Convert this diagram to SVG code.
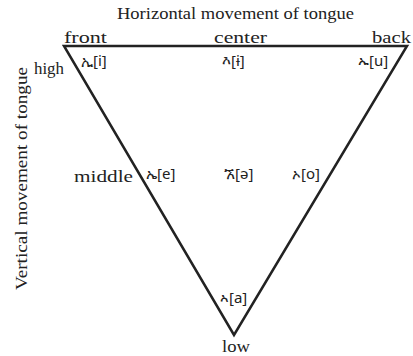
<svg xmlns="http://www.w3.org/2000/svg" width="413" height="356" viewBox="0 0 413 356">
<style>
.s{font-family:"Liberation Serif","DejaVu Serif",serif;font-size:17px;fill:#222}
.v{font-family:"Noto Sans","DejaVu Sans",sans-serif;font-size:15px;fill:#222}
.edge{fill:none;stroke:#222;stroke-width:2.5;stroke-linejoin:miter}
</style>
<rect width="413" height="356" fill="#fff"/>
<g id="connectors">
<path class="edge" d="M64,46 L407,46 L234,335 Z"/>
</g>
<g id="labels">
<text class="s" x="117" y="19" textLength="237" lengthAdjust="spacingAndGlyphs">Horizontal movement of tongue</text>
<text class="s" x="0" y="0" textLength="223" lengthAdjust="spacingAndGlyphs" transform="translate(27 290) rotate(-90)">Vertical movement of tongue</text>
<text class="s" x="64" y="43" textLength="43" lengthAdjust="spacingAndGlyphs">front</text>
<text class="s" x="214" y="43" textLength="53" lengthAdjust="spacingAndGlyphs">center</text>
<text class="s" x="372" y="43" textLength="39" lengthAdjust="spacingAndGlyphs">back</text>
<text class="s" x="34" y="74" textLength="30" lengthAdjust="spacingAndGlyphs">high</text>
<text class="s" x="74" y="182" textLength="59" lengthAdjust="spacingAndGlyphs">middle</text>
<text class="s" x="222" y="352" textLength="28" lengthAdjust="spacingAndGlyphs">low</text>
</g>
<g id="node-i"><text class="v" x="81" y="66">ኢ[i]</text></g>
<g id="node-ɨ"><text class="v" x="222" y="66">እ[ɨ]</text></g>
<g id="node-u"><text class="v" x="358" y="66">ኡ[u]</text></g>
<g id="node-e"><text class="v" x="146" y="179">ኤ[e]</text></g>
<g id="node-ə"><text class="v" x="224" y="179">ኧ[ə]</text></g>
<g id="node-o"><text class="v" x="292" y="179">ኦ[o]</text></g>
<g id="node-a"><text class="v" x="220" y="303">ኣ[a]</text></g>
</svg>
